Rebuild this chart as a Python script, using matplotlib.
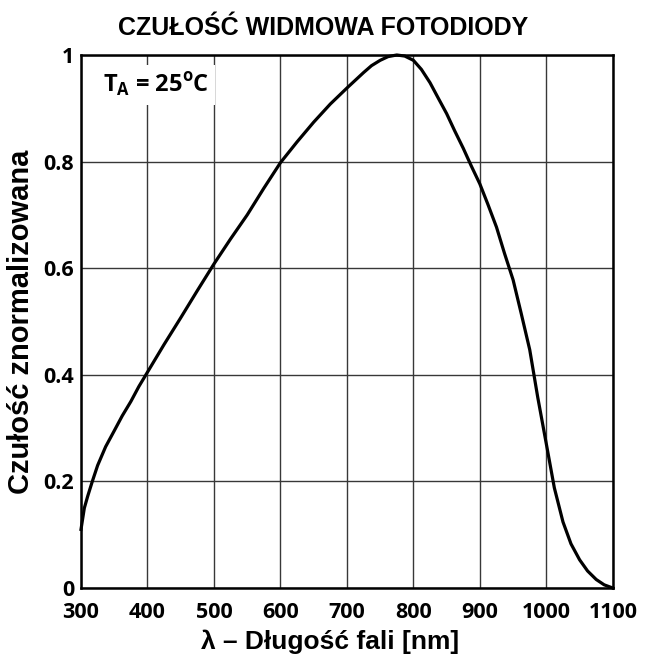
import matplotlib
matplotlib.use('Agg')
import matplotlib.pyplot as plt

plt.rcParams['font.family'] = ['Liberation Sans', 'DejaVu Sans']

# dane (długość fali [nm], czułość znormalizowana)
wavelength = [300, 305, 310, 317, 325, 337, 350, 362, 375, 387, 400, 425, 450,
              475, 500, 525, 550, 575, 600, 625, 650, 675, 700, 725, 737, 750,
              762, 775, 787, 800, 812, 825, 837, 850, 862, 875, 887, 900, 912,
              925, 937, 950, 962, 975, 987, 1000, 1012, 1025, 1037, 1050, 1062,
              1075, 1087, 1100]
response = [0.11, 0.15, 0.172, 0.20, 0.23, 0.265, 0.295, 0.323, 0.35, 0.378,
            0.405, 0.457, 0.507, 0.558, 0.608, 0.655, 0.70, 0.75, 0.798, 0.837,
            0.874, 0.908, 0.938, 0.967, 0.98, 0.99, 0.997, 1.0, 0.998, 0.99,
            0.973, 0.948, 0.92, 0.89, 0.858, 0.825, 0.792, 0.758, 0.72, 0.677,
            0.628, 0.578, 0.516, 0.447, 0.358, 0.27, 0.188, 0.124, 0.083,
            0.053, 0.032, 0.016, 0.006, 0.0]

xticks = [300, 400, 500, 600, 700, 800, 900, 1000, 1100]
yticks = [0, 0.2, 0.4, 0.6, 0.8, 1]
ytick_labels = ['0', '0.2', '0.4', '0.6', '0.8', '1']

fig = plt.figure(figsize=(6.47, 6.61), dpi=100)
ax = fig.add_axes([0.1252, 0.1104, 0.822, 0.8064])

ax.plot(wavelength, response, color='black', linewidth=2.3, clip_on=False,
        zorder=4, solid_joinstyle='round')

ax.set_xlim(300, 1100)
ax.set_ylim(0, 1)
ax.set_xticks(xticks)
ax.set_yticks(yticks)
ax.set_yticklabels(ytick_labels)
ax.tick_params(length=0)
ax.tick_params(axis='x', pad=10)
ax.tick_params(axis='y', pad=5)
for lbl in ax.get_xticklabels() + ax.get_yticklabels():
    lbl.set_fontfamily(['Open Sans', 'DejaVu Sans'])
    lbl.set_fontweight('bold')
    lbl.set_fontsize(15.5)

ax.set_axisbelow(True)
ax.grid(True, color='#383838', linewidth=1.0)
for sp in ax.spines.values():
    sp.set_linewidth(1.8)
    sp.set_color('black')

ax.text(333, 0.944, r'T$_\mathregular{A}$ = 25$^\mathregular{o}$C',
        fontsize=17, fontweight='bold', family=['Open Sans', 'DejaVu Sans'],
        ha='left', va='center', zorder=3,
        bbox=dict(facecolor='white', edgecolor='none', pad=4))

fig.text(0.5, 0.957, 'CZUŁOŚĆ WIDMOWA FOTODIODY', ha='center', va='center',
         fontsize=18, fontweight='bold')
ax.set_xlabel('λ – Długość fali [nm]', fontsize=19, fontweight='bold')
ax.xaxis.set_label_coords(0.468, -0.077)
ax.set_ylabel('Czułość znormalizowana', fontsize=21, fontweight='bold',
              labelpad=6)

plt.savefig('out.png', dpi=100, facecolor='white')
